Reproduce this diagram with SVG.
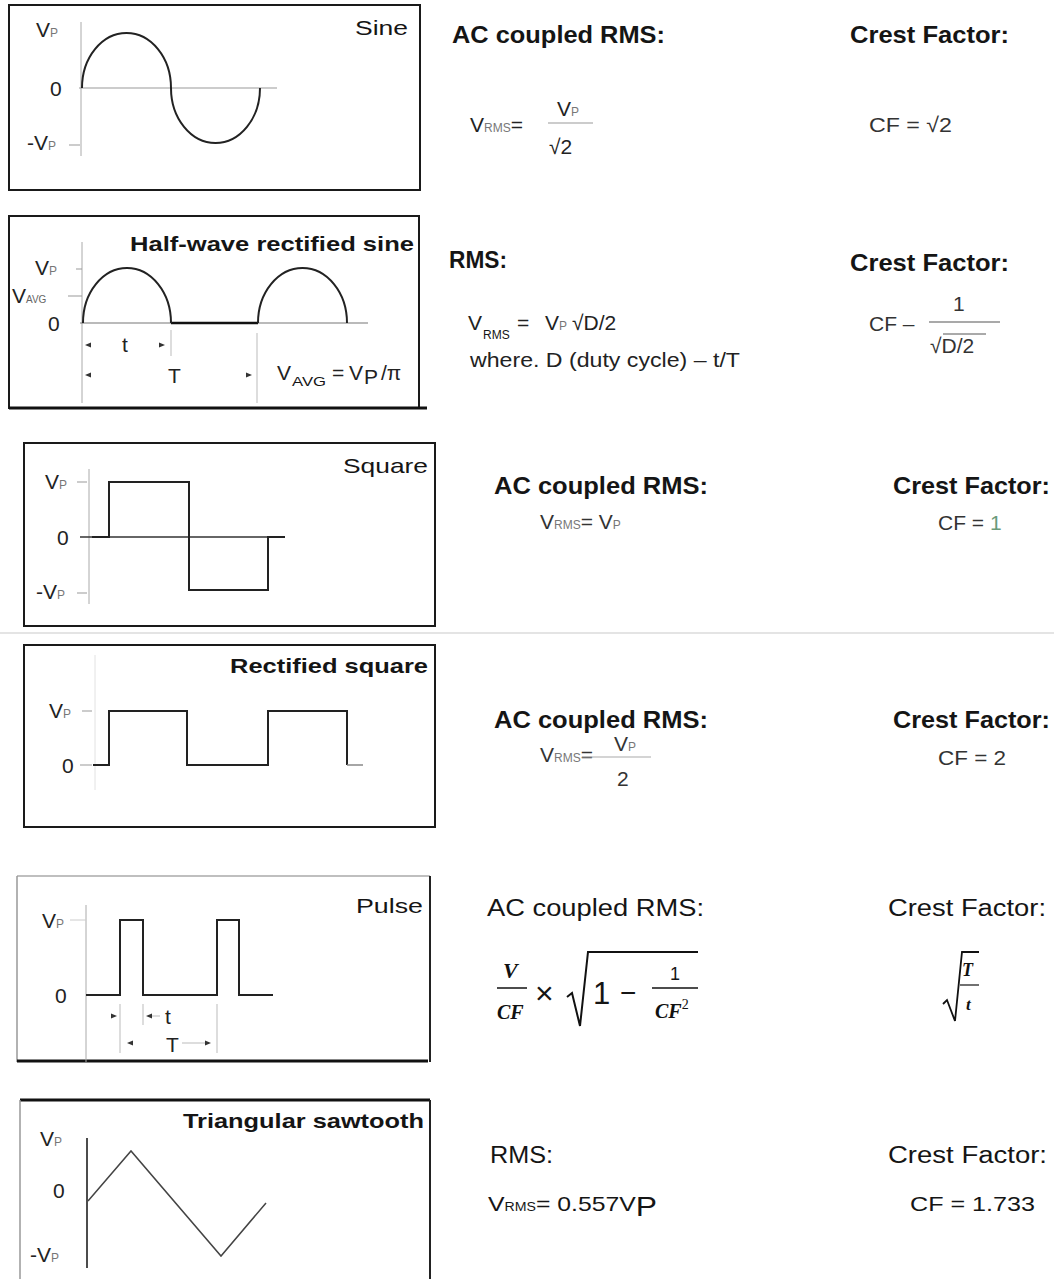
<svg xmlns="http://www.w3.org/2000/svg" width="1054" height="1279" viewBox="0 0 1054 1279">
<style>
text{font-family:"Liberation Sans",Arial,sans-serif;fill:#151515}
.hdr{font-size:24px;font-weight:bold}
.hdrl{font-size:23px}
.ttl{font-size:21px}
.ttlb{font-size:21px;font-weight:bold}
.lbl{font-size:21px;fill:#222}
.sub{font-size:12px;fill:#777}
.frm{font-size:21px;fill:#333}
.box{fill:none;stroke:#1a1a1a;stroke-width:2}
.axis{stroke:#aaa;stroke-width:1;fill:none}
.wave{fill:none;stroke:#222;stroke-width:2}
.tick{stroke:#999;stroke-width:1}
.dim{stroke:#bbb;stroke-width:1}
.arr{fill:#333}
.math{font-family:"Liberation Serif","DejaVu Serif",serif;font-style:italic;font-weight:bold;fill:#111}
</style>
<rect width="1054" height="1279" fill="#fff"/>

<!-- Row 1: Sine -->
<g id="sine-panel">
<rect class="box" x="9" y="5" width="411" height="185"/>
<line class="axis" x1="81" y1="22" x2="81" y2="156"/>
<line x1="79" y1="88" x2="277" y2="88" stroke="#999" stroke-width="1"/>
<path class="wave" stroke-width="1.6" d="M82,88 A44.5,55 0 0 1 171,88 A44.5,55 0 0 0 260,88"/>
<line class="tick" x1="69" y1="145" x2="80" y2="145"/>
<text class="lbl" x="36" y="37">V<tspan class="sub">P</tspan></text>
<text class="lbl" x="50" y="96">0</text>
<text class="lbl" x="27" y="150">-V<tspan class="sub">P</tspan></text>
<text class="ttl" x="355" y="35" font-size="22" textLength="53" lengthAdjust="spacingAndGlyphs">Sine</text>
</g>
<g id="sine-formulas">
<text class="hdr" x="452" y="43" textLength="213" lengthAdjust="spacingAndGlyphs">AC coupled RMS:</text>
<text class="hdr" x="850" y="43" textLength="159" lengthAdjust="spacingAndGlyphs">Crest Factor:</text>
<text class="lbl" x="470" y="132" font-size="23">V<tspan class="sub" font-size="13">RMS</tspan>=</text>
<text class="lbl" x="557" y="116" font-size="22">V<tspan class="sub" font-size="13">P</tspan></text>
<line x1="548" y1="123" x2="593" y2="123" stroke="#999" stroke-width="1.2"/>
<text class="lbl" x="549" y="154" font-size="24">√2</text>
<text class="frm" x="869" y="132" textLength="83" lengthAdjust="spacingAndGlyphs">CF = √2</text>
</g>

<!-- Row 2: Half-wave rectified sine -->
<g id="halfwave-panel">
<rect class="box" x="9" y="216" width="410" height="192"/>
<line x1="9" y1="408" x2="427" y2="408" stroke="#111" stroke-width="3"/>
<text class="ttlb" x="130" y="251" textLength="284" lengthAdjust="spacingAndGlyphs">Half-wave rectified sine</text>
<line class="axis" x1="82" y1="242" x2="82" y2="403"/>
<line x1="80" y1="323" x2="368" y2="323" stroke="#777" stroke-width="1.2"/>
<line x1="171" y1="323" x2="258" y2="323" stroke="#111" stroke-width="2.5"/>
<path class="wave" stroke-width="1.6" d="M83,323 A44,55 0 0 1 171,323 M258,323 A44.5,55 0 0 1 347,323"/>
<line class="tick" x1="76" y1="269" x2="82" y2="269"/>
<line class="tick" x1="68" y1="296" x2="82" y2="296"/>
<text class="lbl" x="35" y="275">V<tspan class="sub">P</tspan></text>
<text class="lbl" x="12" y="303">V<tspan font-size="10" fill="#666">AVG</tspan></text>
<text class="lbl" x="48" y="331">0</text>
<line class="dim" x1="171" y1="330" x2="171" y2="356"/>
<line class="dim" x1="257" y1="333" x2="257" y2="403"/>
<polygon class="arr" points="85,345 91,342.5 91,347.5"/>
<polygon class="arr" points="165,345 159,342.5 159,347.5"/>
<polygon class="arr" points="85,375 91,372.5 91,377.5"/>
<polygon class="arr" points="252,375 246,372.5 246,377.5"/>
<text class="lbl" x="122" y="352">t</text>
<text class="lbl" x="168" y="383" fill="#334">T</text>
<text class="lbl" x="277" y="380" font-size="23">V</text>
<text x="292" y="386" font-size="13" fill="#555" textLength="34" lengthAdjust="spacingAndGlyphs">AVG</text>
<text class="lbl" x="332" y="380" font-size="23">=</text>
<text class="lbl" x="349" y="380" font-size="23">V</text>
<text class="lbl" x="364" y="384" font-size="25">P</text>
<text class="lbl" x="381" y="380" font-size="23">/π</text>
</g>
<g id="halfwave-formulas">
<text class="hdr" x="449" y="268" textLength="58" lengthAdjust="spacingAndGlyphs">RMS:</text>
<text class="hdr" x="850" y="271" textLength="159" lengthAdjust="spacingAndGlyphs">Crest Factor:</text>
<text class="lbl" x="468" y="330" font-size="22">V</text>
<text x="483" y="339" font-size="12" fill="#777">RMS</text>
<text class="lbl" x="517" y="330" font-size="22">=</text>
<text class="lbl" x="545" y="330" font-size="22">V<tspan class="sub">P</tspan></text>
<text class="lbl" x="572" y="330" font-size="22">√D/2</text>
<text class="lbl" x="470" y="367" font-size="19" textLength="270" lengthAdjust="spacingAndGlyphs">where. D (duty cycle) – t/T</text>
<text class="frm" x="869" y="331">CF –</text>
<text class="frm" x="953" y="311">1</text>
<line x1="929" y1="322" x2="1000" y2="322" stroke="#555" stroke-width="1.2"/>
<text class="frm" x="930" y="353">√D/2</text>
<line x1="943" y1="334" x2="986" y2="334" stroke="#555" stroke-width="1"/>
</g>

<!-- Row 3: Square -->
<g id="square-panel">
<rect class="box" x="24" y="443" width="411" height="183"/>
<text class="ttl" x="343" y="473" font-size="22" textLength="85" lengthAdjust="spacingAndGlyphs">Square</text>
<line class="axis" x1="89" y1="469" x2="89" y2="604"/>
<line class="tick" x1="77" y1="482" x2="87" y2="482"/>
<line class="tick" x1="77" y1="593" x2="87" y2="593"/>
<text class="lbl" x="45" y="489">V<tspan class="sub">P</tspan></text>
<text class="lbl" x="57" y="545">0</text>
<text class="lbl" x="36" y="599">-V<tspan class="sub">P</tspan></text>
<line x1="80" y1="537" x2="285" y2="537" stroke="#333" stroke-width="1.5"/>
<polyline class="wave" points="92,537 109,537 109,482 189,482 189,590 268,590 268,537 285,537"/>
</g>
<line id="separator" x1="0" y1="633" x2="1054" y2="633" stroke="#e4e4e4" stroke-width="2"/>
<g id="square-formulas">
<text class="hdr" x="494" y="494" font-weight="normal" style="font-weight:600" textLength="214" lengthAdjust="spacingAndGlyphs">AC coupled RMS:</text>
<text class="hdr" x="893" y="494" style="font-weight:600" textLength="157" lengthAdjust="spacingAndGlyphs">Crest Factor:</text>
<text class="frm" x="540" y="529" fill="#555">V<tspan class="sub" font-size="13">RMS</tspan>= V<tspan class="sub" font-size="13">P</tspan></text>
<text class="frm" x="938" y="530" fill="#666">CF = <tspan fill="#6a9a7a">1</tspan></text>
</g>

<!-- Row 4: Rectified square -->
<g id="rectsquare-panel">
<rect class="box" x="24" y="645" width="411" height="182"/>
<text class="ttlb" x="230" y="673" textLength="198" lengthAdjust="spacingAndGlyphs">Rectified square</text>
<line x1="95" y1="655" x2="95" y2="790" stroke="#e2e2e2" stroke-width="1"/>
<line class="tick" x1="82" y1="711" x2="92" y2="711"/>
<line class="tick" x1="80" y1="765" x2="92" y2="765"/>
<text class="lbl" x="49" y="718">V<tspan class="sub">P</tspan></text>
<text class="lbl" x="62" y="773">0</text>
<polyline class="wave" points="93,765 109,765 109,711 187,711 187,765 268,765 268,711 347,711 347,765"/>
<line x1="347" y1="765" x2="363" y2="765" stroke="#888" stroke-width="1.5"/>
</g>
<g id="rectsquare-formulas">
<text class="hdr" x="494" y="728" textLength="214" lengthAdjust="spacingAndGlyphs">AC coupled RMS:</text>
<text class="hdr" x="893" y="728" textLength="157" lengthAdjust="spacingAndGlyphs">Crest Factor:</text>
<text class="frm" x="540" y="762" fill="#555">V<tspan class="sub" font-size="13">RMS</tspan>=</text>
<text class="frm" x="614" y="751" fill="#555">V<tspan class="sub" font-size="13">P</tspan></text>
<line x1="582" y1="757" x2="651" y2="757" stroke="#aaa" stroke-width="1.2"/>
<text class="frm" x="617" y="786">2</text>
<text class="frm" x="938" y="765" fill="#555" textLength="68" lengthAdjust="spacingAndGlyphs">CF = 2</text>
</g>

<!-- Row 5: Pulse -->
<g id="pulse-panel">
<line x1="17" y1="876" x2="430" y2="876" stroke="#aaa" stroke-width="1.5"/>
<line x1="17" y1="876" x2="17" y2="1062" stroke="#999" stroke-width="1.5"/>
<line x1="430" y1="876" x2="430" y2="1062" stroke="#222" stroke-width="2"/>
<line x1="17" y1="1061" x2="428" y2="1061" stroke="#111" stroke-width="3"/>
<text class="ttl" x="356" y="913" font-size="22" textLength="67" lengthAdjust="spacingAndGlyphs">Pulse</text>
<line class="axis" x1="86" y1="905" x2="86" y2="1062" stroke="#bbb"/>
<line x1="70" y1="920" x2="86" y2="920" stroke="#ccc"/>
<text class="lbl" x="42" y="928">V<tspan class="sub" fill="#a9c">P</tspan></text>
<text class="lbl" x="55" y="1003">0</text>
<polyline class="wave" stroke="#555" stroke-width="1.8" points="86,995 120,995 120,920 143,920 143,995 217,995 217,920 239,920 239,995 273,995"/>
<line class="dim" x1="120" y1="1004" x2="120" y2="1053"/>
<line class="dim" x1="143" y1="1004" x2="143" y2="1025"/>
<line class="dim" x1="217" y1="1004" x2="217" y2="1053"/>
<polygon class="arr" points="117,1016 111,1013.5 111,1018.5"/>
<polygon class="arr" points="146,1016 152,1013.5 152,1018.5"/>
<line x1="152" y1="1016" x2="160" y2="1016" stroke="#bbb"/>
<text class="lbl" x="165" y="1024" font-size="19" fill="#536">t</text>
<polygon class="arr" points="127,1043 133,1040.5 133,1045.5"/>
<polygon class="arr" points="211,1043 205,1040.5 205,1045.5"/>
<line x1="182" y1="1043" x2="205" y2="1043" stroke="#bbb"/>
<text class="lbl" x="166" y="1052">T</text>
</g>
<g id="pulse-formulas">
<text class="hdrl" x="487" y="916" textLength="217" lengthAdjust="spacingAndGlyphs">AC coupled RMS:</text>
<text class="hdrl" x="888" y="916" textLength="158" lengthAdjust="spacingAndGlyphs">Crest Factor:</text>
<text class="math" x="503" y="978" font-size="22">V</text>
<line x1="497" y1="988" x2="527" y2="988" stroke="#111" stroke-width="1.5"/>
<text class="math" x="497" y="1019" font-size="20">CF</text>
<text x="535" y="1004" font-size="32">×</text>
<path d="M567,997 L572,993 L580,1026 L588,952 L698,952" fill="none" stroke="#111" stroke-width="2"/>
<text x="593" y="1004" font-size="31" font-family="Liberation Serif,serif">1</text>
<text x="620" y="1002" font-size="28" font-family="Liberation Serif,serif">−</text>
<text x="670" y="980" font-size="18" font-family="Liberation Serif,serif">1</text>
<line x1="652" y1="988" x2="698" y2="988" stroke="#111" stroke-width="1.5"/>
<text class="math" x="655" y="1018" font-size="20">CF<tspan font-style="normal" font-weight="normal" font-size="14" dy="-9">2</tspan></text>
<path d="M943,1004 L947,1000 L955,1021 L962,952 L979,952" fill="none" stroke="#111" stroke-width="1.8"/>
<text class="math" x="962" y="976" font-size="18">T</text>
<line x1="960" y1="985" x2="979" y2="985" stroke="#111" stroke-width="1.2"/>
<text class="math" x="966" y="1010" font-size="17">t</text>
</g>

<!-- Row 6: Triangular sawtooth -->
<g id="triangle-panel">
<line x1="20" y1="1100" x2="430" y2="1100" stroke="#111" stroke-width="3"/>
<line x1="20" y1="1100" x2="20" y2="1279" stroke="#999" stroke-width="1.5"/>
<line x1="430" y1="1100" x2="430" y2="1279" stroke="#222" stroke-width="2"/>
<text class="ttlb" x="183" y="1128" textLength="241" lengthAdjust="spacingAndGlyphs">Triangular sawtooth</text>
<line x1="87" y1="1138" x2="87" y2="1268" stroke="#111" stroke-width="1.5"/>
<text class="lbl" x="40" y="1146" fill="#444">V<tspan class="sub" fill="#a8c">P</tspan></text>
<text class="lbl" x="53" y="1198" fill="#555">0</text>
<text class="lbl" x="30" y="1262" fill="#555">-V<tspan class="sub" fill="#a8c">P</tspan></text>
<polyline fill="none" stroke="#444" stroke-width="1.5" points="88,1201 131,1151 221,1256 266,1203"/>
</g>
<g id="triangle-formulas">
<text class="hdrl" x="490" y="1163" textLength="63" lengthAdjust="spacingAndGlyphs">RMS:</text>
<text class="hdrl" x="888" y="1163" textLength="159" lengthAdjust="spacingAndGlyphs" fill="#333">Crest Factor:</text>
<text x="488" y="1211" font-size="21" fill="#999" textLength="169" lengthAdjust="spacingAndGlyphs">V<tspan font-size="12">RMS</tspan>= 0.557V<tspan font-size="27" dy="5">P</tspan></text>
<text x="910" y="1211" font-size="21" fill="#aaa" textLength="125" lengthAdjust="spacingAndGlyphs">CF = 1.733</text>
</g>
</svg>
